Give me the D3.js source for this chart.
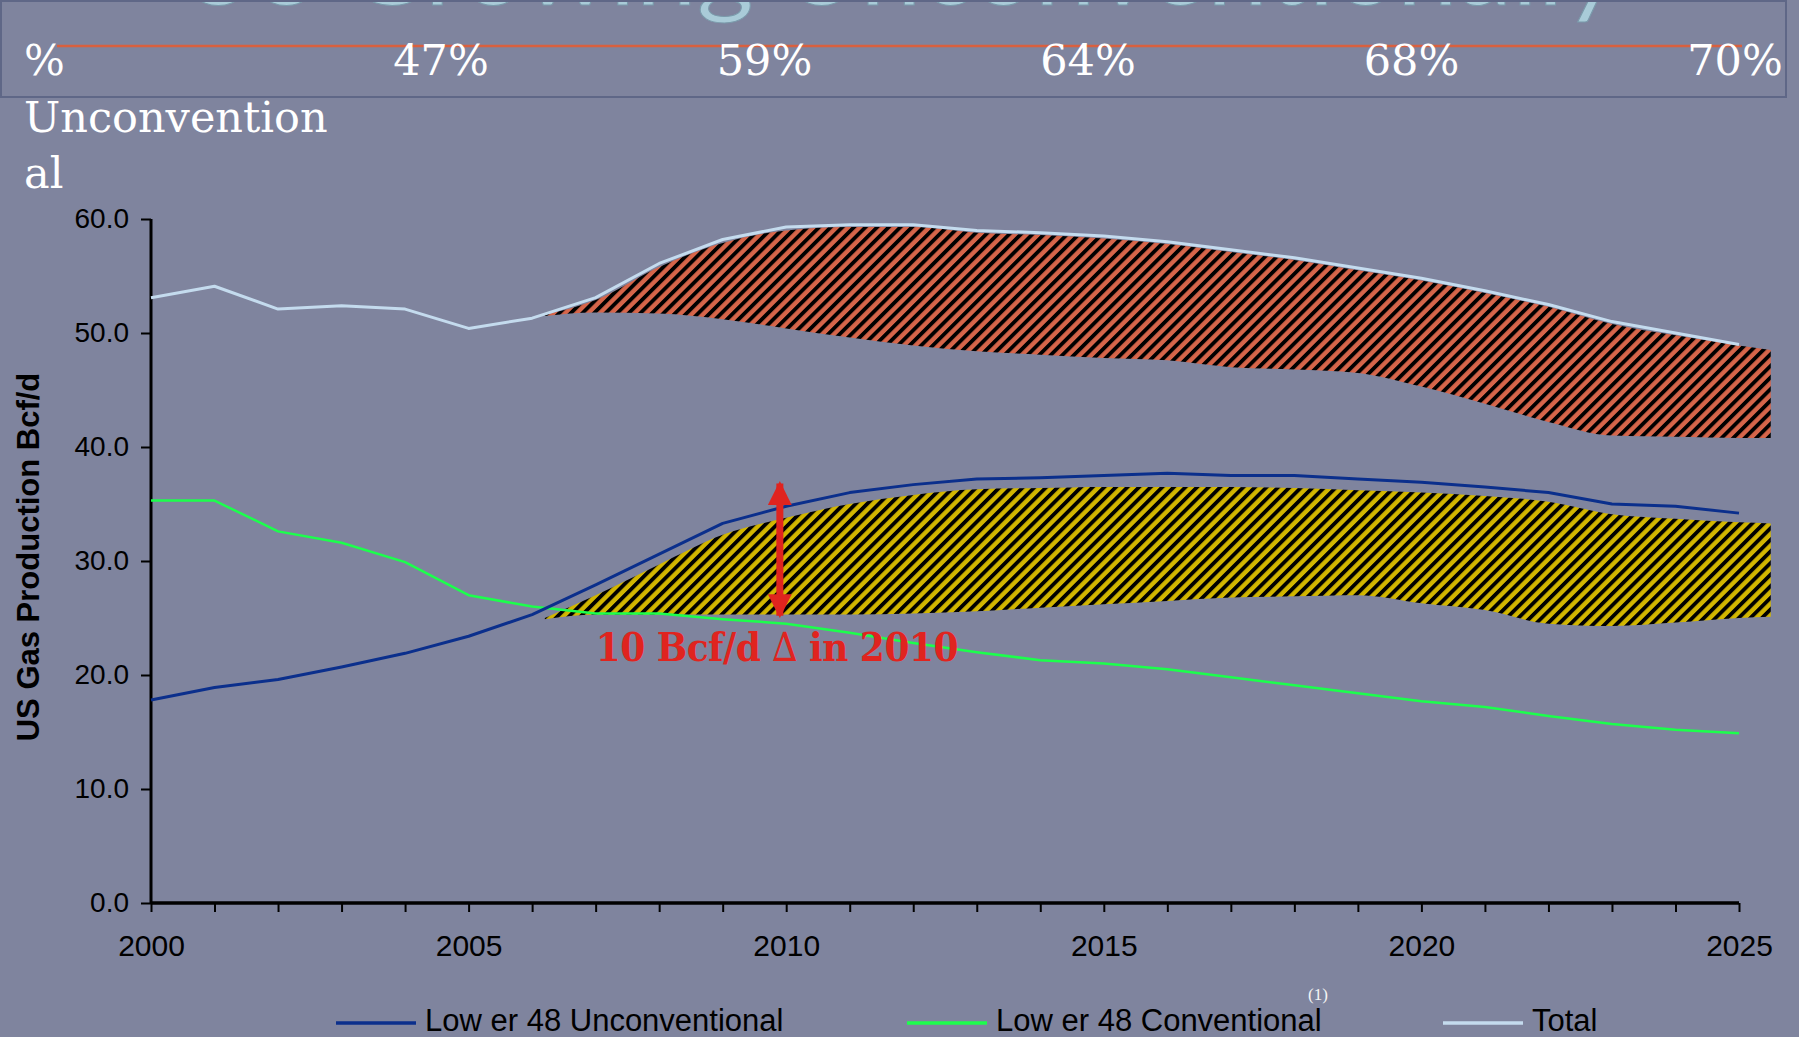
<!DOCTYPE html>
<html>
<head>
<meta charset="utf-8">
<script src="https://cdn.jsdelivr.net/npm/d3@7"></script>
<style>
  html, body { margin: 0; padding: 0; background: #7f849e; overflow: hidden; }
  svg { display: block; }
</style>
</head>
<body>
<svg id="chart" width="1799" height="1037"></svg>
<script>
// ---------------- DATA ----------------
const years = [2000,2001,2002,2003,2004,2005,2006,2007,2008,2009,2010,2011,2012,2013,2014,2015,2016,2017,2018,2019,2020,2021,2022,2023,2024,2025];
const unconventional = [17.8,18.9,19.6,20.7,21.9,23.4,25.3,27.9,30.6,33.3,34.8,36.0,36.7,37.2,37.3,37.5,37.7,37.5,37.5,37.2,36.9,36.5,36.0,35.0,34.8,34.2];
const conventional   = [35.3,35.3,32.6,31.6,29.9,27.0,26.0,25.4,25.4,24.9,24.5,23.7,22.8,22.0,21.3,21.0,20.5,19.8,19.1,18.4,17.7,17.2,16.4,15.7,15.2,14.9];
const total          = [53.1,54.1,52.1,52.4,52.1,50.4,51.3,53.1,56.1,58.2,59.3,59.5,59.5,59.0,58.8,58.5,58.0,57.3,56.6,55.7,54.8,53.7,52.5,51.0,50.0,49.0];

const bandYears   = [2006.2,2007,2008,2009,2010,2011,2012,2013,2014,2015,2016,2017,2018,2019,2020,2021,2022,2023,2024,2025,2025.5];
const redUpper    = [51.6,52.9,55.8,57.9,59.0,59.3,59.3,58.8,58.6,58.3,57.8,57.1,56.4,55.5,54.6,53.5,52.3,50.8,49.8,48.9,48.5];
const redLower    = [51.5,51.8,51.7,51.2,50.4,49.6,48.9,48.4,48.1,47.8,47.6,47.0,46.8,46.5,45.3,43.8,42.2,41.0,40.9,40.8,40.8];
const yellowUpper = [25.0,27.0,29.7,32.3,33.8,35.0,35.8,36.3,36.4,36.5,36.5,36.5,36.4,36.2,36.0,35.7,35.2,34.1,33.7,33.4,33.3];
const yellowLower = [24.9,25.3,25.3,25.3,25.3,25.3,25.4,25.6,25.9,26.2,26.5,26.8,26.9,27.0,26.3,25.7,24.5,24.3,24.6,25.0,25.1];

const yTicks = [0,10,20,30,40,50,60];
const xLabelYears = [2000,2005,2010,2015,2020,2025];
const pctLabels = ["47%","59%","64%","68%","70%"];
const legendLabels = ["Low er 48 Unconventional","Low er 48 Conventional","Total"];
const titleText = "US Growing Unconventionally";
const annotationParts = ["10 Bcf/d ", "\u2206", " in 2010"];
const arrowYear = 2009.9, arrowFrom = 25.2, arrowTo = 36.8;
const annotationYear = 2007, annotationValue = 21.2;

// ---------------- STYLE ----------------
const colBlue = "#0b2f8c", colGreen = "#1cff4c", colTotal = "#c4dbee";
const colRedFill = "#d6654a", colYellowFill = "#d2b600", colArrow = "#e0241f";

const svg = d3.select("#chart");
const W = 1799, H = 1037;

svg.append("rect").attr("width", W).attr("height", H).attr("fill", "#7f849e");

// patterns
const defs = svg.append("defs");
function hatch(id, fill) {
  const p = defs.append("pattern").attr("id", id)
    .attr("patternUnits", "userSpaceOnUse").attr("width", 8.2).attr("height", 8.2)
    .attr("patternTransform", "rotate(45)");
  p.append("rect").attr("width", 8.2).attr("height", 8.2).attr("fill", fill);
  p.append("rect").attr("width", 3.8).attr("height", 8.2).attr("fill", "#000");
}
hatch("hatchRed", colRedFill);
hatch("hatchYellow", colYellowFill);

// ---------------- HEADER ----------------
svg.append("text")
  .attr("x", 178).attr("y", 5)
  .attr("font-family", "Lato, Open Sans, sans-serif")
  .attr("font-size", 100)
  .attr("textLength", 1442).attr("lengthAdjust", "spacingAndGlyphs")
  .attr("fill", "#a9cbd8").attr("stroke", "#7a9aab").attr("stroke-width", 1)
  .text(titleText);

svg.append("rect").attr("x", 1).attr("y", 1).attr("width", 1785).attr("height", 96)
  .attr("fill", "none").attr("stroke", "#5f6787").attr("stroke-width", 2);

svg.append("line").attr("x1", 57).attr("x2", 1742).attr("y1", 46).attr("y2", 46)
  .attr("stroke", "#d9603f").attr("stroke-width", 2.5);

const serif = "DejaVu Serif, serif";
const serifC = "DejaVu Serif Condensed, DejaVu Serif, serif";
svg.append("text").attr("x", 24).attr("y", 75)
  .attr("font-family", serif).attr("font-size", 43).attr("fill", "#fff").text("%");

const pctX = d3.scalePoint().domain(pctLabels).range([441, 1735]);
svg.selectAll("text.pct").data(pctLabels).join("text").attr("class", "pct")
  .attr("x", d => pctX(d)).attr("y", 75).attr("text-anchor", "middle")
  .attr("font-family", serif).attr("font-size", 43).attr("fill", "#fff").text(d => d);

svg.append("text").attr("x", 24).attr("y", 132)
  .attr("font-family", serif).attr("font-size", 43).attr("fill", "#fff").text("Unconvention");
svg.append("text").attr("x", 24).attr("y", 188)
  .attr("font-family", serif).attr("font-size", 43).attr("fill", "#fff").text("al");

// ---------------- SCALES ----------------
const x = d3.scaleLinear().domain([2000, 2025]).range([151, 1739]);
const y = d3.scaleLinear().domain([0, 60]).range([903, 219]);

// ---------------- AREAS ----------------
function band(upper, lower) {
  return d3.area()
    .x((d, i) => x(bandYears[i]))
    .y0((d, i) => y(lower[i]))
    .y1((d, i) => y(upper[i]))
    .curve(d3.curveMonotoneX)(bandYears);
}
svg.append("path").attr("d", band(redUpper, redLower)).attr("fill", "url(#hatchRed)");
svg.append("path").attr("d", band(yellowUpper, yellowLower)).attr("fill", "url(#hatchYellow)");

// ---------------- AXES ----------------
const sans = "Liberation Sans, Arial, sans-serif";
const yAxis = svg.append("g").attr("transform", `translate(${x(2000)},0)`)
  .call(d3.axisLeft(y).tickValues(yTicks).tickFormat(d3.format(".1f")).tickSize(10).tickPadding(12));
yAxis.select(".domain").attr("stroke", "#000").attr("stroke-width", 3).attr("d", `M0,${y(60)}V${y(0)}`);
yAxis.selectAll(".tick line").attr("stroke", "#000").attr("stroke-width", 2);
yAxis.selectAll(".tick text").attr("font-family", sans).attr("font-size", 28).attr("fill", "#000");

const xAxis = svg.append("g").attr("transform", `translate(0,${y(0)})`)
  .call(d3.axisBottom(x).tickValues(years).tickFormat(d => xLabelYears.includes(d) ? String(d) : "").tickSize(9).tickPadding(23));
xAxis.select(".domain").attr("stroke", "#000").attr("stroke-width", 3.5).attr("d", `M${x(2000)},0H${x(2025)}`);
xAxis.selectAll(".tick line").attr("stroke", "#000").attr("stroke-width", 2);
xAxis.selectAll(".tick text").attr("font-family", sans).attr("font-size", 30).attr("fill", "#000");

// y label
svg.append("text")
  .attr("transform", `translate(39,${(y(0) + y(60)) / 2 - 4}) rotate(-90)`)
  .attr("text-anchor", "middle")
  .attr("font-family", sans).attr("font-weight", "bold").attr("font-size", 31).attr("fill", "#000")
  .text("US Gas Production Bcf/d");

// ---------------- LINES ----------------
const seriesList = [
  { values: total, color: colTotal, width: 3 },
  { values: conventional, color: colGreen, width: 2.5 },
  { values: unconventional, color: colBlue, width: 3 }
];
const lineGen = vals => d3.line().x((d, i) => x(years[i])).y((d, i) => y(vals[i]))(years);
svg.selectAll("path.series").data(seriesList).join("path").attr("class", "series")
  .attr("d", d => lineGen(d.values)).attr("fill", "none")
  .attr("stroke", d => d.color).attr("stroke-width", d => d.width).attr("stroke-linejoin", "round");

// ---------------- ANNOTATION ----------------
defs.append("marker").attr("id", "ah").attr("viewBox", "0 0 10 10").attr("refX", 9).attr("refY", 5)
  .attr("markerWidth", 3.4).attr("markerHeight", 3.4).attr("markerUnits", "strokeWidth").attr("orient", "auto-start-reverse")
  .append("path").attr("d", "M0,0L10,5L0,10Z").attr("fill", colArrow);
svg.append("line")
  .attr("x1", x(arrowYear)).attr("x2", x(arrowYear))
  .attr("y1", y(arrowFrom)).attr("y2", y(arrowTo))
  .attr("stroke", colArrow).attr("stroke-width", 7)
  .attr("marker-start", "url(#ah)").attr("marker-end", "url(#ah)");

const ann = svg.append("text").attr("x", x(annotationYear)).attr("y", y(annotationValue))
  .attr("font-family", serifC).attr("font-weight", "bold").attr("font-size", 40)
  .attr("letter-spacing", -0.5).attr("fill", colArrow);
ann.selectAll("tspan").data(annotationParts).join("tspan")
  .attr("font-weight", (d, i) => i === 1 ? "normal" : "bold").text(d => d);

// ---------------- LEGEND ----------------
const legendColors = [colBlue, colGreen, colTotal];
const legendX = [336, 907, 1443];
const lg = svg.selectAll("g.legend").data(legendLabels).join("g").attr("class", "legend")
  .attr("transform", (d, i) => `translate(${legendX[i]},1023)`);
lg.append("line").attr("x1", 0).attr("x2", 80).attr("y1", 0).attr("y2", 0)
  .attr("stroke", (d, i) => legendColors[i]).attr("stroke-width", 3.5);
lg.append("text").attr("x", 89).attr("y", 8)
  .attr("font-family", sans).attr("font-size", 31).attr("fill", "#000").text(d => d);
svg.append("text").attr("x", 1318).attr("y", 1000).attr("text-anchor", "middle")
  .attr("font-family", "Liberation Serif, serif").attr("font-size", 17).attr("fill", "#f4f4f4").text("(1)");
</script>
</body>
</html>
